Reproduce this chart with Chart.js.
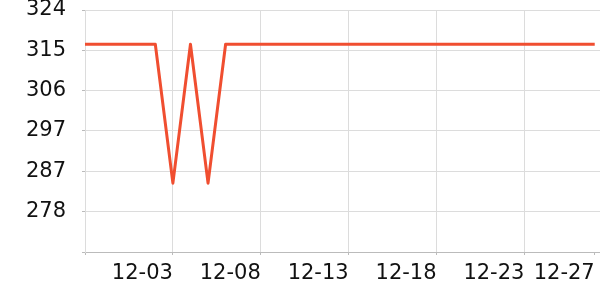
<!DOCTYPE html>
<html>
<head>
<meta charset="utf-8">
<style>
    html, body { margin: 0; padding: 0; background: #fff; }
    #wrap { width: 600px; height: 300px; position: relative; }
</style>
<script src="https://cdn.jsdelivr.net/npm/chart.js@4/dist/chart.umd.min.js"></script>
</head>
<body>
<div id="wrap"><canvas id="lineChart"></canvas></div>
<script>
    // Dates 11-28 .. 12-27
    const dates = ['11-28', '11-29', '11-30', '12-01', '12-02', '12-03', '12-04', '12-05', '12-06', '12-07',
        '12-08', '12-09', '12-10', '12-11', '12-12', '12-13', '12-14', '12-15', '12-16', '12-17',
        '12-18', '12-19', '12-20', '12-21', '12-22', '12-23', '12-24', '12-25', '12-26', '12-27'];
    const values = [316.4, 316.4, 316.4, 316.4, 316.4, 284.7, 316.4, 284.7, 316.4, 316.4,
        316.4, 316.4, 316.4, 316.4, 316.4, 316.4, 316.4, 316.4, 316.4, 316.4,
        316.4, 316.4, 316.4, 316.4, 316.4, 316.4, 316.4, 316.4, 316.4, 316.4];
    // Index of dates that get a label on the x axis
    const xTickIdx = [0, 5, 10, 15, 20, 25, 29];
    const yTicks = [269, 278.2, 287.4, 296.6, 305.8, 315, 324.2];
    const yTickLabels = ['', '278', '287', '297', '306', '315', '324'];

    const gridColor = '#dcdcdc';
    const fontSpec = { family: 'DejaVu Sans', size: 21 };

    const ctx = document.getElementById('lineChart').getContext('2d');
    new Chart(ctx, {
        type: 'line',
        data: {
            datasets: [{
                data: values.map(function(v, i) { return { x: i, y: v }; }),
                borderColor: '#f04e30',
                borderWidth: 3,
                borderJoinStyle: 'round',
                pointRadius: 0,
                tension: 0,
                fill: false
            }]
        },
        options: {
            responsive: true,
            maintainAspectRatio: false,
            animation: false,
            layout: { padding: { top: 10, right: 0, left: 0, bottom: 0 } },
            plugins: {
                legend: { display: false },
                tooltip: { enabled: false }
            },
            scales: {
                x: {
                    type: 'linear',
                    min: 0,
                    max: 29.3,
                    afterBuildTicks: function(scale) {
                        scale.ticks = xTickIdx.map(function(i) { return { value: i }; });
                    },
                    afterFit: function(scale) {
                        scale.height = 48;
                        scale.paddingLeft = 0;
                        scale.paddingRight = 0;
                    },
                    ticks: {
                        autoSkip: false,
                        maxRotation: 0,
                        align: 'end',
                        padding: 6,
                        color: '#111',
                        font: fontSpec,
                        callback: function(value) {
                            return value === 0 ? '' : dates[value];
                        }
                    },
                    grid: {
                        color: function(c) {
                            return c.tick && c.tick.value === 29 ? 'rgba(0,0,0,0)' : gridColor;
                        },
                        tickColor: '#bbb',
                        tickLength: 3,
                        drawTicks: true
                    },
                    border: { color: '#bbb', width: 1 }
                },
                y: {
                    min: 269,
                    max: 324.2,
                    afterBuildTicks: function(scale) {
                        scale.ticks = yTicks.map(function(v) { return { value: v }; });
                    },
                    afterFit: function(scale) {
                        scale.width = 85;
                        scale.paddingTop = 0;
                        scale.paddingBottom = 0;
                    },
                    ticks: {
                        padding: 16,
                        color: '#111',
                        font: fontSpec,
                        callback: function(value, index) {
                            return yTickLabels[index];
                        }
                    },
                    grid: {
                        color: gridColor,
                        tickColor: '#bbb',
                        tickLength: 3
                    },
                    border: { color: gridColor, width: 1 }
                }
            }
        }
    });
</script>
</body>
</html>
